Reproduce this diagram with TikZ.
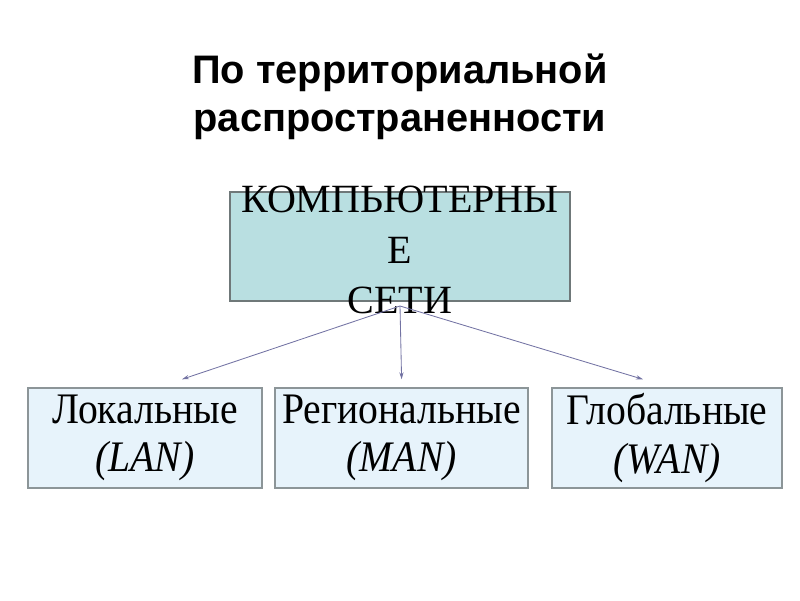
\documentclass[tikz,border=0pt]{standalone}
\usepackage{fontspec}
\setmainfont{Liberation Serif}
\newfontfamily\titlefont{Liberation Sans}
\newfontfamily\kindfont[FakeStretch=0.91]{Liberation Serif}
\usetikzlibrary{positioning,arrows.meta,calc}

\definecolor{netfill}{HTML}{B9DFE1}
\definecolor{netline}{HTML}{6F7879}
\definecolor{kindfill}{HTML}{E7F3FB}
\definecolor{kindline}{HTML}{8C9598}
\definecolor{arrowcol}{HTML}{7373A3}

\tikzset{
  netbox/.style={draw=netline,line width=1.3pt,fill=netfill,minimum width=8.5cm,minimum height=2.725cm,inner sep=0pt},
  kindbox/.style={draw=kindline,line width=1pt,fill=kindfill,minimum width=#1,minimum height=2.5cm,
    align=center,font=\kindfont\fontsize{31}{34.5}\selectfont,inner sep=0pt},
  branch/.style={->,arrowcol,line width=0.6pt},
}

\begin{document}
\begin{tikzpicture}[>={Stealth[length=5pt,width=3pt]}]
  \useasboundingbox (0,0) rectangle (20,-15);
  % заголовок
  \node[font=\titlefont\bfseries\fontsize{28.3}{34.5}\selectfont,align=center] (title) at (10,-2.42)
    {По территориальной\\распространенности};
  % компьютерные сети
  \node[netbox] (net) at (10,-6.16) {};
  \node[align=center,font=\fontsize{28.5}{36}\selectfont] (nettext) at (10,-6.25)
    {КОМПЬЮТЕРНЫ\\Е\\СЕТИ};
  \coordinate (hub) at (10,-7.65);
  % виды сетей
  \node[kindbox=5.85cm] (lan) at (3.625,-10.95) {Локальные\\\textit{(LAN)}};
  \node[kindbox=6.325cm] (man) at (10.04,-10.95) {Региональные\\\textit{(MAN)}};
  \node[kindbox=5.75cm] (wan) at (16.675,-10.95) {Глобальные\\\textit{(WAN)}};
  % стрелки
  \draw[branch] (hub) -- ([shift={(0.925,0.2)}]lan.north);
  \draw[branch] (hub) -- ([shift={(0,0.2)}]man.north);
  \draw[branch] (hub) -- ([shift={(-0.6,0.2)}]wan.north);
\end{tikzpicture}
\end{document}
